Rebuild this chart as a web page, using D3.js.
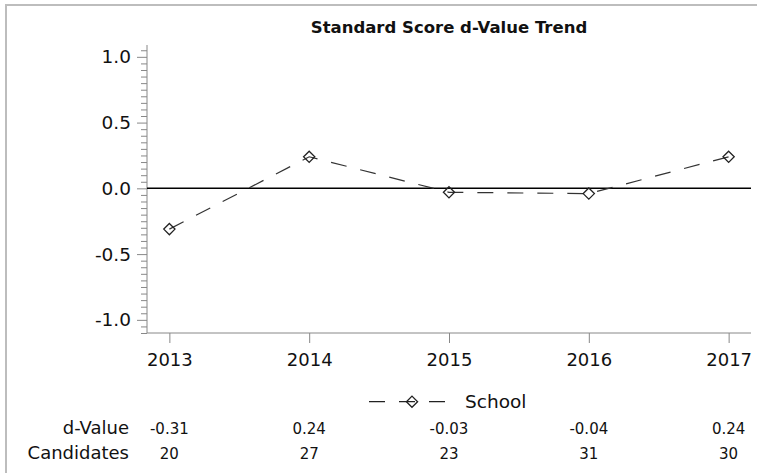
<!DOCTYPE html>
<html>
<head>
<meta charset="utf-8">
<script src="https://cdn.jsdelivr.net/npm/d3@7"></script>
<style>
  body { margin: 0; background: #fff; }
  svg { display: block; font-family: "DejaVu Sans", sans-serif; }
</style>
</head>
<body>
<svg width="757" height="473"></svg>
<script>
var years = ["2013", "2014", "2015", "2016", "2017"];
var dValues = [-0.31, 0.24, -0.03, -0.04, 0.24];
var candidates = [20, 27, 23, 31, 30];
var yTicks = [-1.0, -0.5, 0.0, 0.5, 1.0];
var seriesName = "School";
var chartTitle = "Standard Score d-Value Trend";

var svg = d3.select("svg");

// outer frame, runs off the right and bottom of the picture
svg.append("rect")
    .attr("x", 6).attr("y", 5)
    .attr("width", 800).attr("height", 520)
    .attr("fill", "none")
    .attr("stroke", "#bdbdbd")
    .attr("stroke-width", 2);

var pLeft = 147, pRight = 751, pTop = 45, pBottom = 333;

var x = d3.scalePoint()
    .domain(years)
    .range([pLeft, pRight])
    .padding(0.16);

var y = d3.scaleLinear()
    .domain([-1.1, 1.09])
    .range([pBottom, pTop]);

// plain hyphen instead of the unicode minus d3 uses
function fmt1(v) { return v.toFixed(1); }

svg.append("text")
    .attr("x", (pLeft + pRight) / 2)
    .attr("y", 32.5)
    .attr("text-anchor", "middle")
    .attr("font-size", 16.5)
    .attr("font-weight", "bold")
    .attr("fill", "#111")
    .text(chartTitle);

// y axis with minor ticks
var minor = d3.range(-1.1, 1.1, 0.05).filter(function (v) {
    return Math.abs(Math.round(v * 2) / 2 - v) > 0.01;
});
svg.append("g")
    .attr("transform", "translate(" + pLeft + ",0)")
    .call(d3.axisLeft(y).tickValues(minor).tickSize(6).tickFormat(""))
    .call(function (g) { g.select(".domain").remove(); })
    .selectAll("line").attr("stroke", "#888");

var yAxis = svg.append("g")
    .attr("transform", "translate(" + pLeft + ",0)")
    .call(d3.axisLeft(y).tickValues(yTicks).tickSize(10).tickPadding(6)
        .tickFormat(fmt1));
yAxis.select(".domain").attr("stroke", "#888").attr("d", "M0," + pTop + "V" + pBottom);
yAxis.selectAll("line").attr("stroke", "#888");
yAxis.selectAll("text")
    .attr("font-size", 18.5)
    .attr("font-family", "DejaVu Sans, sans-serif")
    .attr("fill", "#111");

var xAxis = svg.append("g")
    .attr("transform", "translate(0," + pBottom + ")")
    .call(d3.axisBottom(x).tickSize(10).tickPadding(10));
xAxis.select(".domain").attr("stroke", "#888").attr("d", "M" + pLeft + ",0H" + pRight);
xAxis.selectAll("line").attr("stroke", "#888");
xAxis.selectAll("text")
    .attr("font-size", 18)
    .attr("font-family", "DejaVu Sans, sans-serif")
    .attr("fill", "#111");

// zero reference line
svg.append("line")
    .attr("x1", pLeft).attr("x2", pRight)
    .attr("y1", y(0)).attr("y2", y(0))
    .attr("stroke", "#000")
    .attr("stroke-width", 1.5);

// data line
var pts = years.map(function (yr, i) { return { year: yr, v: dValues[i] }; });
var line = d3.line()
    .x(function (d) { return x(d.year); })
    .y(function (d) { return y(d.v); });

svg.append("path")
    .datum(pts)
    .attr("d", line)
    .attr("fill", "none")
    .attr("stroke", "#333")
    .attr("stroke-width", 1.2)
    .attr("stroke-dasharray", "16,14");

var diamond = d3.symbol().type(d3.symbolDiamond2).size(80);
svg.selectAll(".marker")
    .data(pts)
    .enter().append("path")
    .attr("class", "marker")
    .attr("transform", function (d) { return "translate(" + x(d.year) + "," + y(d.v) + ")"; })
    .attr("d", diamond)
    .attr("fill", "none")
    .attr("stroke", "#222")
    .attr("stroke-width", 1.3);

// legend
var legY = 401.7;
svg.append("line")
    .attr("x1", 369).attr("x2", 445)
    .attr("y1", legY).attr("y2", legY)
    .attr("stroke", "#222")
    .attr("stroke-width", 1.2)
    .attr("stroke-dasharray", "16,14");
svg.append("path")
    .attr("transform", "translate(412," + legY + ")")
    .attr("d", diamond)
    .attr("fill", "none")
    .attr("stroke", "#222")
    .attr("stroke-width", 1.3);
svg.append("text")
    .attr("x", 465).attr("y", 408)
    .attr("font-size", 18.5)
    .attr("fill", "#111")
    .text(seriesName);

// table below the chart
var rows = [
    { label: "d-Value", vals: dValues.map(function (v) { return v.toFixed(2); }), yb: 434 },
    { label: "Candidates", vals: candidates.map(String), yb: 459 }
];
rows.forEach(function (r) {
    svg.append("text")
        .attr("x", 129).attr("y", r.yb)
        .attr("text-anchor", "end")
        .attr("font-size", 18)
        .attr("fill", "#111")
        .text(r.label);
    svg.selectAll(null)
        .data(r.vals)
        .enter().append("text")
        .attr("x", function (d, i) { return x(years[i]); })
        .attr("y", r.yb)
        .attr("text-anchor", "middle")
        .attr("font-size", 15)
        .attr("fill", "#111")
        .text(function (d) { return d; });
});
</script>
</body>
</html>
